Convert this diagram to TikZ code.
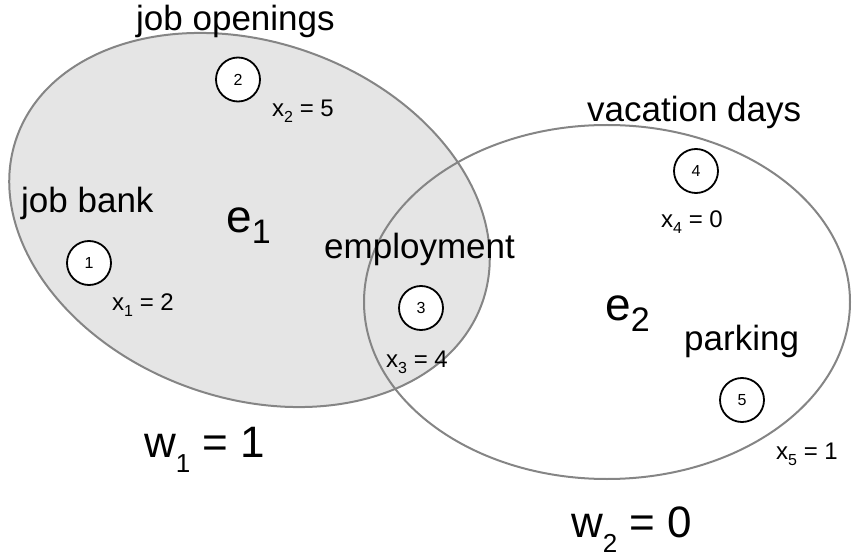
\documentclass[tikz,border=0pt]{standalone}
\usepackage{fontspec}
\setmainfont{Liberation Sans}
\newcommand\lowsub[3]{\raisebox{-#1pt}{\fontsize{#2pt}{#2pt}\selectfont #3}}
\begin{document}
\begin{tikzpicture}[x=1pt,y=-1pt,
  setstyle/.style={draw=black!48, line width=2pt},
  vtx/.style={circle, draw=black, line width=1.8pt, fill=white, minimum size=44pt, inner sep=0pt, font=\fontsize{16pt}{16pt}\selectfont},
  lbl/.style={anchor=base west, inner sep=0pt, font=\fontsize{35pt}{35pt}\selectfont},
  val/.style={anchor=base west, inner sep=0pt, font=\fontsize{24pt}{24pt}\selectfont},
  big/.style={anchor=base west, inner sep=0pt, font=\fontsize{46pt}{46pt}\selectfont},
  wlbl/.style={anchor=base west, inner sep=0pt, font=\fontsize{44pt}{44pt}\selectfont}]
\useasboundingbox (0,0) rectangle (852,556);
% hyperedges
\draw[setstyle, fill=black!10, rotate around={-19.6:(249.5,220)}] (249.5,220) ellipse [x radius=247pt, y radius=178pt];
\draw[setstyle] (607,302) ellipse [x radius=243pt, y radius=177pt];
% vertices
\node[vtx] (v1) at (89,263) {1};
\node[vtx] (v2) at (238,79.5) {2};
\node[vtx] (v3) at (421,308) {3};
\node[vtx] (v4) at (696,171) {4};
\node[vtx] (v5) at (742,400) {5};
% labels
\node[lbl] (ljo) at (136,31) {job openings};
\node[lbl] (ljb) at (21,213) {job bank};
\node[lbl] (lem) at (324,259) {employment};
\node[lbl] (lvd) at (587,122) {vacation days};
\node[lbl] (lpk) at (684,350) {parking};
% values
\node[val] (x1) at (112,310) {x\lowsub{6}{16}{1} = 2};
\node[val] (x2) at (272,117) {x\lowsub{6}{16}{2} = 5};
\node[val] (x3) at (386,367) {x\lowsub{6}{16}{3} = 4};
\node[val] (x4) at (661,228) {x\lowsub{6}{16}{4} = 0};
\node[val] (x5) at (776,459) {x\lowsub{6}{16}{5} = 1};
% edge names
\node[big] (e1) at (226,233) {e\lowsub{11}{34}{1}};
\node[big] (e2) at (605,320) {e\lowsub{11}{34}{2}};
% weights
\node[wlbl] (w1) at (144,457) {w\lowsub{15}{26}{1} = 1};
\node[wlbl] (w2) at (571,537) {w\lowsub{15}{26}{2} = 0};
\end{tikzpicture}
\end{document}
